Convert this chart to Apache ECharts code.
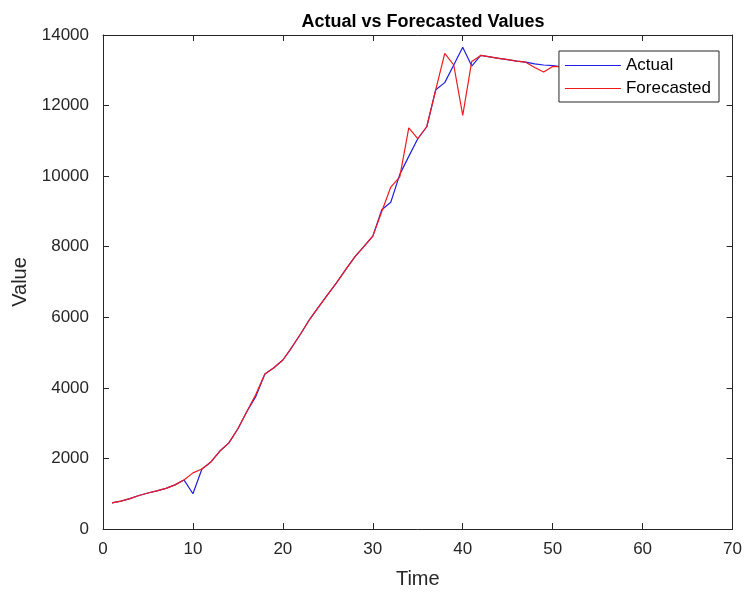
<!DOCTYPE html>
<html>
<head>
<meta charset="utf-8">
<script src="https://cdn.jsdelivr.net/npm/echarts@6/dist/echarts.min.js"></script>
<style>
  html, body { margin: 0; padding: 0; background: #fff; }
  #chart { width: 745px; height: 594px; }
</style>
</head>
<body>
<div id="chart"></div>
<script>
// Time steps and the two series plotted against them
const timeSteps = [1, 2, 3, 4, 5, 6, 7, 8, 9, 10, 11, 12, 13, 14, 15, 16, 17, 18, 19, 20,
  21, 22, 23, 24, 25, 26, 27, 28, 29, 30, 31, 32, 33, 34, 35, 36, 37, 38, 39, 40,
  41, 42, 43, 44, 45, 46, 47, 48, 49, 50, 51];

const actualValues = [740, 790, 860, 950, 1020, 1080, 1150, 1250, 1390, 1000,
  1700, 1900, 2210, 2440, 2840, 3330, 3760, 4390, 4570, 4790,
  5150, 5540, 5950, 6300, 6650, 6990, 7360, 7710, 8000, 8300,
  9050, 9260, 10050, 10560, 11060, 11400, 12450, 12650, 13150, 13650,
  13120, 13420, 13380, 13340, 13300, 13260, 13230, 13180, 13150, 13130, 13100];

const forecastValues = [740, 790, 860, 950, 1020, 1080, 1150, 1250, 1390, 1590,
  1700, 1900, 2210, 2440, 2840, 3330, 3820, 4390, 4570, 4790,
  5150, 5540, 5950, 6300, 6650, 6990, 7360, 7710, 8000, 8300,
  9000, 9690, 9980, 11370, 11060, 11400, 12450, 13480, 13150, 11720,
  13250, 13420, 13380, 13340, 13300, 13260, 13230, 13080, 12950, 13110, 13100];

const xTicks = { min: 0, max: 70, step: 10 };
const yTicks = { min: 0, max: 14000, step: 2000 };

const axisColor = '#262626';
const fontFamily = '"Liberation Sans", Arial, Helvetica, sans-serif';

const pairs = (xs, ys) => xs.map((x, i) => [x, ys[i]]);

const chart = echarts.init(document.getElementById('chart'), null, { renderer: 'canvas' });

const boxAxis = (extra) => Object.assign({
  type: 'value',
  axisLine: { show: true, onZero: false, lineStyle: { color: axisColor, width: 1 } },
  axisTick: { show: true, inside: true, length: 6, lineStyle: { color: axisColor, width: 1 } },
  splitLine: { show: false },
}, extra);

chart.setOption({
  backgroundColor: '#ffffff',
  animation: false,
  title: {
    text: 'Actual vs Forecasted Values',
    left: 418,
    textAlign: 'center',
    top: 8,
    textStyle: { fontFamily, fontSize: 18, fontWeight: 'bold', color: '#000' }
  },
  grid: { left: 103, right: 12, top: 35, bottom: 62, containLabel: false },
  legend: {
    orient: 'vertical',
    right: 26,
    top: 51,
    icon: 'rect',
    itemWidth: 56,
    itemHeight: 1,
    itemGap: 6,
    padding: [6, 8, 5, 6],
    backgroundColor: '#ffffff',
    borderColor: axisColor,
    borderWidth: 1,
    borderRadius: 0,
    textStyle: { fontFamily, fontSize: 17, color: '#000' },
    data: ['Actual', 'Forecasted']
  },
  xAxis: [
    boxAxis({
      min: xTicks.min, max: xTicks.max, interval: xTicks.step,
      position: 'bottom',
      name: 'Time',
      nameLocation: 'middle',
      nameGap: 40,
      nameTextStyle: { fontFamily, fontSize: 20, color: axisColor },
      axisLabel: { fontFamily, fontSize: 17, color: axisColor, margin: 12 }
    }),
    boxAxis({
      min: xTicks.min, max: xTicks.max, interval: xTicks.step,
      position: 'top',
      axisLabel: { show: false }
    })
  ],
  yAxis: [
    boxAxis({
      min: yTicks.min, max: yTicks.max, interval: yTicks.step,
      position: 'left',
      name: 'Value',
      nameLocation: 'middle',
      nameGap: 69,
      nameTextStyle: { fontFamily, fontSize: 20, color: axisColor },
      axisLabel: { fontFamily, fontSize: 17, color: axisColor, margin: 14, formatter: (v) => String(v) }
    }),
    boxAxis({
      min: yTicks.min, max: yTicks.max, interval: yTicks.step,
      position: 'right',
      axisLabel: { show: false }
    })
  ],
  series: [
    {
      name: 'Actual',
      type: 'line',
      xAxisIndex: 0,
      yAxisIndex: 0,
      data: pairs(timeSteps, actualValues),
      symbol: 'none',
      lineStyle: { color: '#1f1fe6', width: 1.2 },
      itemStyle: { color: '#1f1fe6' },
      z: 2
    },
    {
      name: 'Forecasted',
      type: 'line',
      xAxisIndex: 0,
      yAxisIndex: 0,
      data: pairs(timeSteps, forecastValues),
      symbol: 'none',
      lineStyle: { color: '#f01a1a', width: 1.2 },
      itemStyle: { color: '#f01a1a' },
      z: 3
    }
  ]
});
</script>
</body>
</html>
